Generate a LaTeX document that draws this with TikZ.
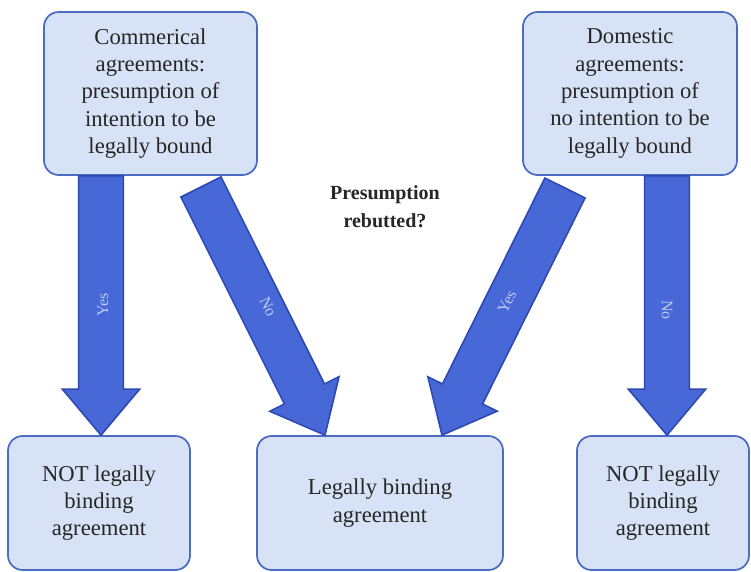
\documentclass[tikz,border=0pt]{standalone}
\usepackage{fontspec}
\setmainfont{LiberationSerif}[Extension=.ttf, UprightFont=*-Regular, BoldFont=*-Bold, ItalicFont=*-Italic, BoldItalicFont=*-BoldItalic]
\usetikzlibrary{calc}
\definecolor{boxfill}{HTML}{D8E2F6}
\definecolor{boxline}{HTML}{4C6CC4}
\definecolor{arrowfill}{HTML}{4868D8}
\definecolor{arrowline}{HTML}{2D4AB4}
\definecolor{arrowtext}{HTML}{BCCBF4}
\tikzset{
  infobox/.style={draw=boxline, fill=boxfill, line width=1.3pt, rounded corners=11pt,
    align=center, inner sep=0pt, font=\fontsize{17}{20.5}\selectfont, text=black!85},
  arrowlabel/.style={text=arrowtext, font=\fontsize{12}{14}\selectfont, inner sep=0pt},
}
% block arrow from #1 to #2: shaft half width, head half width, head length
\newcommand{\blockarrow}[2]{%
  \coordinate (hb) at ($(#2)!34.5pt!(#1)$);
  \filldraw[fill=arrowfill, draw=arrowline, line width=1.2pt, line join=miter]
    ($(#1)!16.8pt!90:(#2)$) -- ($(hb)!16.8pt!90:(#2)$) -- ($(hb)!29pt!90:(#2)$) --
    (#2) -- ($(hb)!29pt!-90:(#2)$) -- ($(hb)!16.8pt!-90:(#2)$) --
    ($(#1)!16.8pt!-90:(#2)$) -- cycle;%
}
\begin{document}
\begin{tikzpicture}[x=0.75pt, y=-0.75pt]
  \useasboundingbox (0,0) rectangle (751,572);
  \fill[white] (0,0) rectangle (751,572);

  % presumption boxes
  \node[infobox, minimum width=213*0.75pt, minimum height=163*0.75pt] (com) at (150.5,93.5)
    {Commerical\\agreements:\\presumption of\\intention to be\\legally bound};
  \node[infobox, minimum width=214*0.75pt, minimum height=163*0.75pt] (dom) at (630,93.5)
    {Domestic\\agreements:\\presumption of\\no intention to be\\legally bound};

  % outcome boxes
  \node[infobox, minimum width=182*0.75pt, minimum height=134*0.75pt] (notl) at (99,503)
    {NOT legally\\binding\\agreement};
  \node[infobox, minimum width=246*0.75pt, minimum height=134*0.75pt] (bind) at (380,503)
    {Legally binding\\agreement};
  \node[infobox, minimum width=172*0.75pt, minimum height=134*0.75pt] (notr) at (663,503)
    {NOT legally\\binding\\agreement};

  \node[font=\bfseries\fontsize{15}{21}\selectfont, align=center, text=black!85] (q) at (385,207)
    {Presumption\\rebutted?};

  % arrow ends
  \coordinate (a1s) at (com.south -| 101,0);
  \coordinate (a1t) at (notl.north -| 101,0);
  \coordinate (a2s) at (201,187);
  \coordinate (a2t) at (bind.north -| 325,0);
  \coordinate (a3s) at (565,188);
  \coordinate (a3t) at (bind.north -| 442,0);
  \coordinate (a4s) at (dom.south -| 667,0);
  \coordinate (a4t) at (notr.north -| 667,0);

  \blockarrow{a1s}{a1t}
  \blockarrow{a2s}{a2t}
  \blockarrow{a3s}{a3t}
  \blockarrow{a4s}{a4t}

  \node[arrowlabel, rotate=90] (y1) at (103,305) {Yes};
  \node[arrowlabel, rotate=-63.4] (n1) at (268,307) {No};
  \node[arrowlabel, rotate=63.5] (y2) at (507,302) {Yes};
  \node[arrowlabel, rotate=-90] (n2) at (667,310) {No};
\end{tikzpicture}
\end{document}
